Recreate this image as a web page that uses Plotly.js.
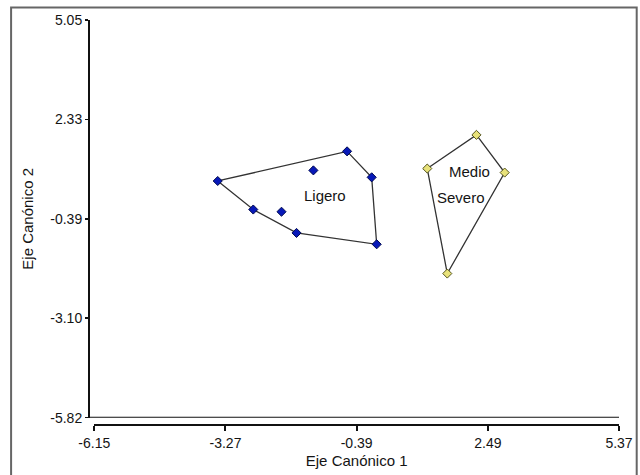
<!DOCTYPE html>
<html>
<head>
<meta charset="utf-8">
<script src="https://cdn.plot.ly/plotly-3.0.1.min.js"></script>
<style>html,body{margin:0;padding:0;background:#fff;}#chart{width:640px;height:475px;}</style>
</head>
<body>
<div id="chart"></div>
<script>
// Group 1: Ligero
const ligeroX = [-3.44, -2.66, -1.71, 0.05, -0.06, -0.60, -1.34, -2.04];
const ligeroY = [0.65, -0.13, -0.77, -1.08, 0.75, 1.46, 0.94, -0.19];
// Group 2: Medio / Severo
const medioX = [1.16, 2.24, 2.86, 1.60];
const medioY = [0.99, 1.91, 0.88, -1.88];
// Group labels
const labelText = ["Ligero", "Medio", "Severo"];
const labelX = [-1.09, 2.08, 1.91];
const labelY = [0.26, 0.90, 0.19];
// Axis ticks
const xTicks = [-6.15, -3.27, -0.39, 2.49, 5.37];
const yTicks = [5.05, 2.33, -0.39, -3.10, -5.82];

function hull(xs, ys) {
  const pts = xs.map((x, i) => [x, ys[i]]).sort((a, b) => a[0] - b[0] || a[1] - b[1]);
  const cross = (o, a, b) => (a[0]-o[0])*(b[1]-o[1]) - (a[1]-o[1])*(b[0]-o[0]);
  const lower = [], upper = [];
  for (const p of pts) { while (lower.length >= 2 && cross(lower[lower.length-2], lower[lower.length-1], p) <= 0) lower.pop(); lower.push(p); }
  for (let i = pts.length - 1; i >= 0; i--) { const p = pts[i]; while (upper.length >= 2 && cross(upper[upper.length-2], upper[upper.length-1], p) <= 0) upper.pop(); upper.push(p); }
  upper.pop(); lower.pop();
  const h = lower.concat(upper); h.push(h[0]);
  return {x: h.map(p => p[0]), y: h.map(p => p[1])};
}

const h1 = hull(ligeroX, ligeroY);
const h2 = hull(medioX, medioY);
const FONT = '"Liberation Sans", Arial, sans-serif';
const TXT = '#141414';

const traces = [
  {x: h1.x, y: h1.y, mode: 'lines', line: {color: '#333', width: 1.3}, hoverinfo: 'skip'},
  {x: h2.x, y: h2.y, mode: 'lines', line: {color: '#333', width: 1.3}, hoverinfo: 'skip'},
  {x: ligeroX, y: ligeroY, mode: 'markers', marker: {symbol: 'diamond', size: 7, color: '#0718b8', line: {color: '#000a50', width: 1}}},
  {x: medioX, y: medioY, mode: 'markers', marker: {symbol: 'diamond', size: 7, color: '#e8e27a', line: {color: '#55551e', width: 1}}}
];

const annotations = labelText.map((t, i) => ({
  x: labelX[i], y: labelY[i], xref: 'x', yref: 'y', text: t, showarrow: false,
  font: {family: FONT, size: 15, color: TXT}
}));

const layout = {
  width: 640, height: 475,
  margin: {l: 89, r: 20.7, t: 19.5, b: 50},
  paper_bgcolor: '#fff', plot_bgcolor: '#fff',
  showlegend: false,
  font: {family: FONT, size: 14, color: TXT},
  xaxis: {
    domain: [0.01, 1], range: [xTicks[0], xTicks[xTicks.length-1]],
    anchor: 'free', position: 0,
    tickvals: xTicks, ticktext: xTicks.map(v => v.toFixed(2)),
    tickfont: {family: FONT, size: 14, color: TXT},
    ticks: 'outside', ticklen: 5, tickwidth: 2, tickcolor: '#111',
    showline: true, linecolor: '#111', linewidth: 2,
    showgrid: false, zeroline: false,
    title: {text: 'Eje Canónico 1', font: {family: FONT, size: 15, color: TXT}, standoff: 5}
  },
  yaxis: {
    domain: [0.018, 1], range: [yTicks[yTicks.length-1], yTicks[0]],
    anchor: 'free', position: 0,
    tickvals: yTicks, ticktext: yTicks.map(v => v.toFixed(2)),
    tickfont: {family: FONT, size: 14, color: TXT},
    ticks: 'outside', ticklen: 3, tickwidth: 1.5, tickcolor: '#111',
    showline: true, linecolor: '#111', linewidth: 2,
    showgrid: false, zeroline: false,
    title: {text: 'Eje Canónico 2', font: {family: FONT, size: 15, color: TXT}, standoff: 12}
  },
  shapes: [
    {type: 'line', xref: 'paper', yref: 'y', x0: 0, x1: 1, y0: yTicks[yTicks.length-1], y1: yTicks[yTicks.length-1], line: {color: '#111', width: 2}},
    {type: 'rect', xref: 'paper', yref: 'paper', x0: -0.147, x1: 1.0334, y0: -0.3, y1: 1.0308, line: {color: '#666', width: 2}}
  ],
  annotations: annotations
};

Plotly.newPlot('chart', traces, layout, {staticPlot: true, displayModeBar: false});
</script>
</body>
</html>
